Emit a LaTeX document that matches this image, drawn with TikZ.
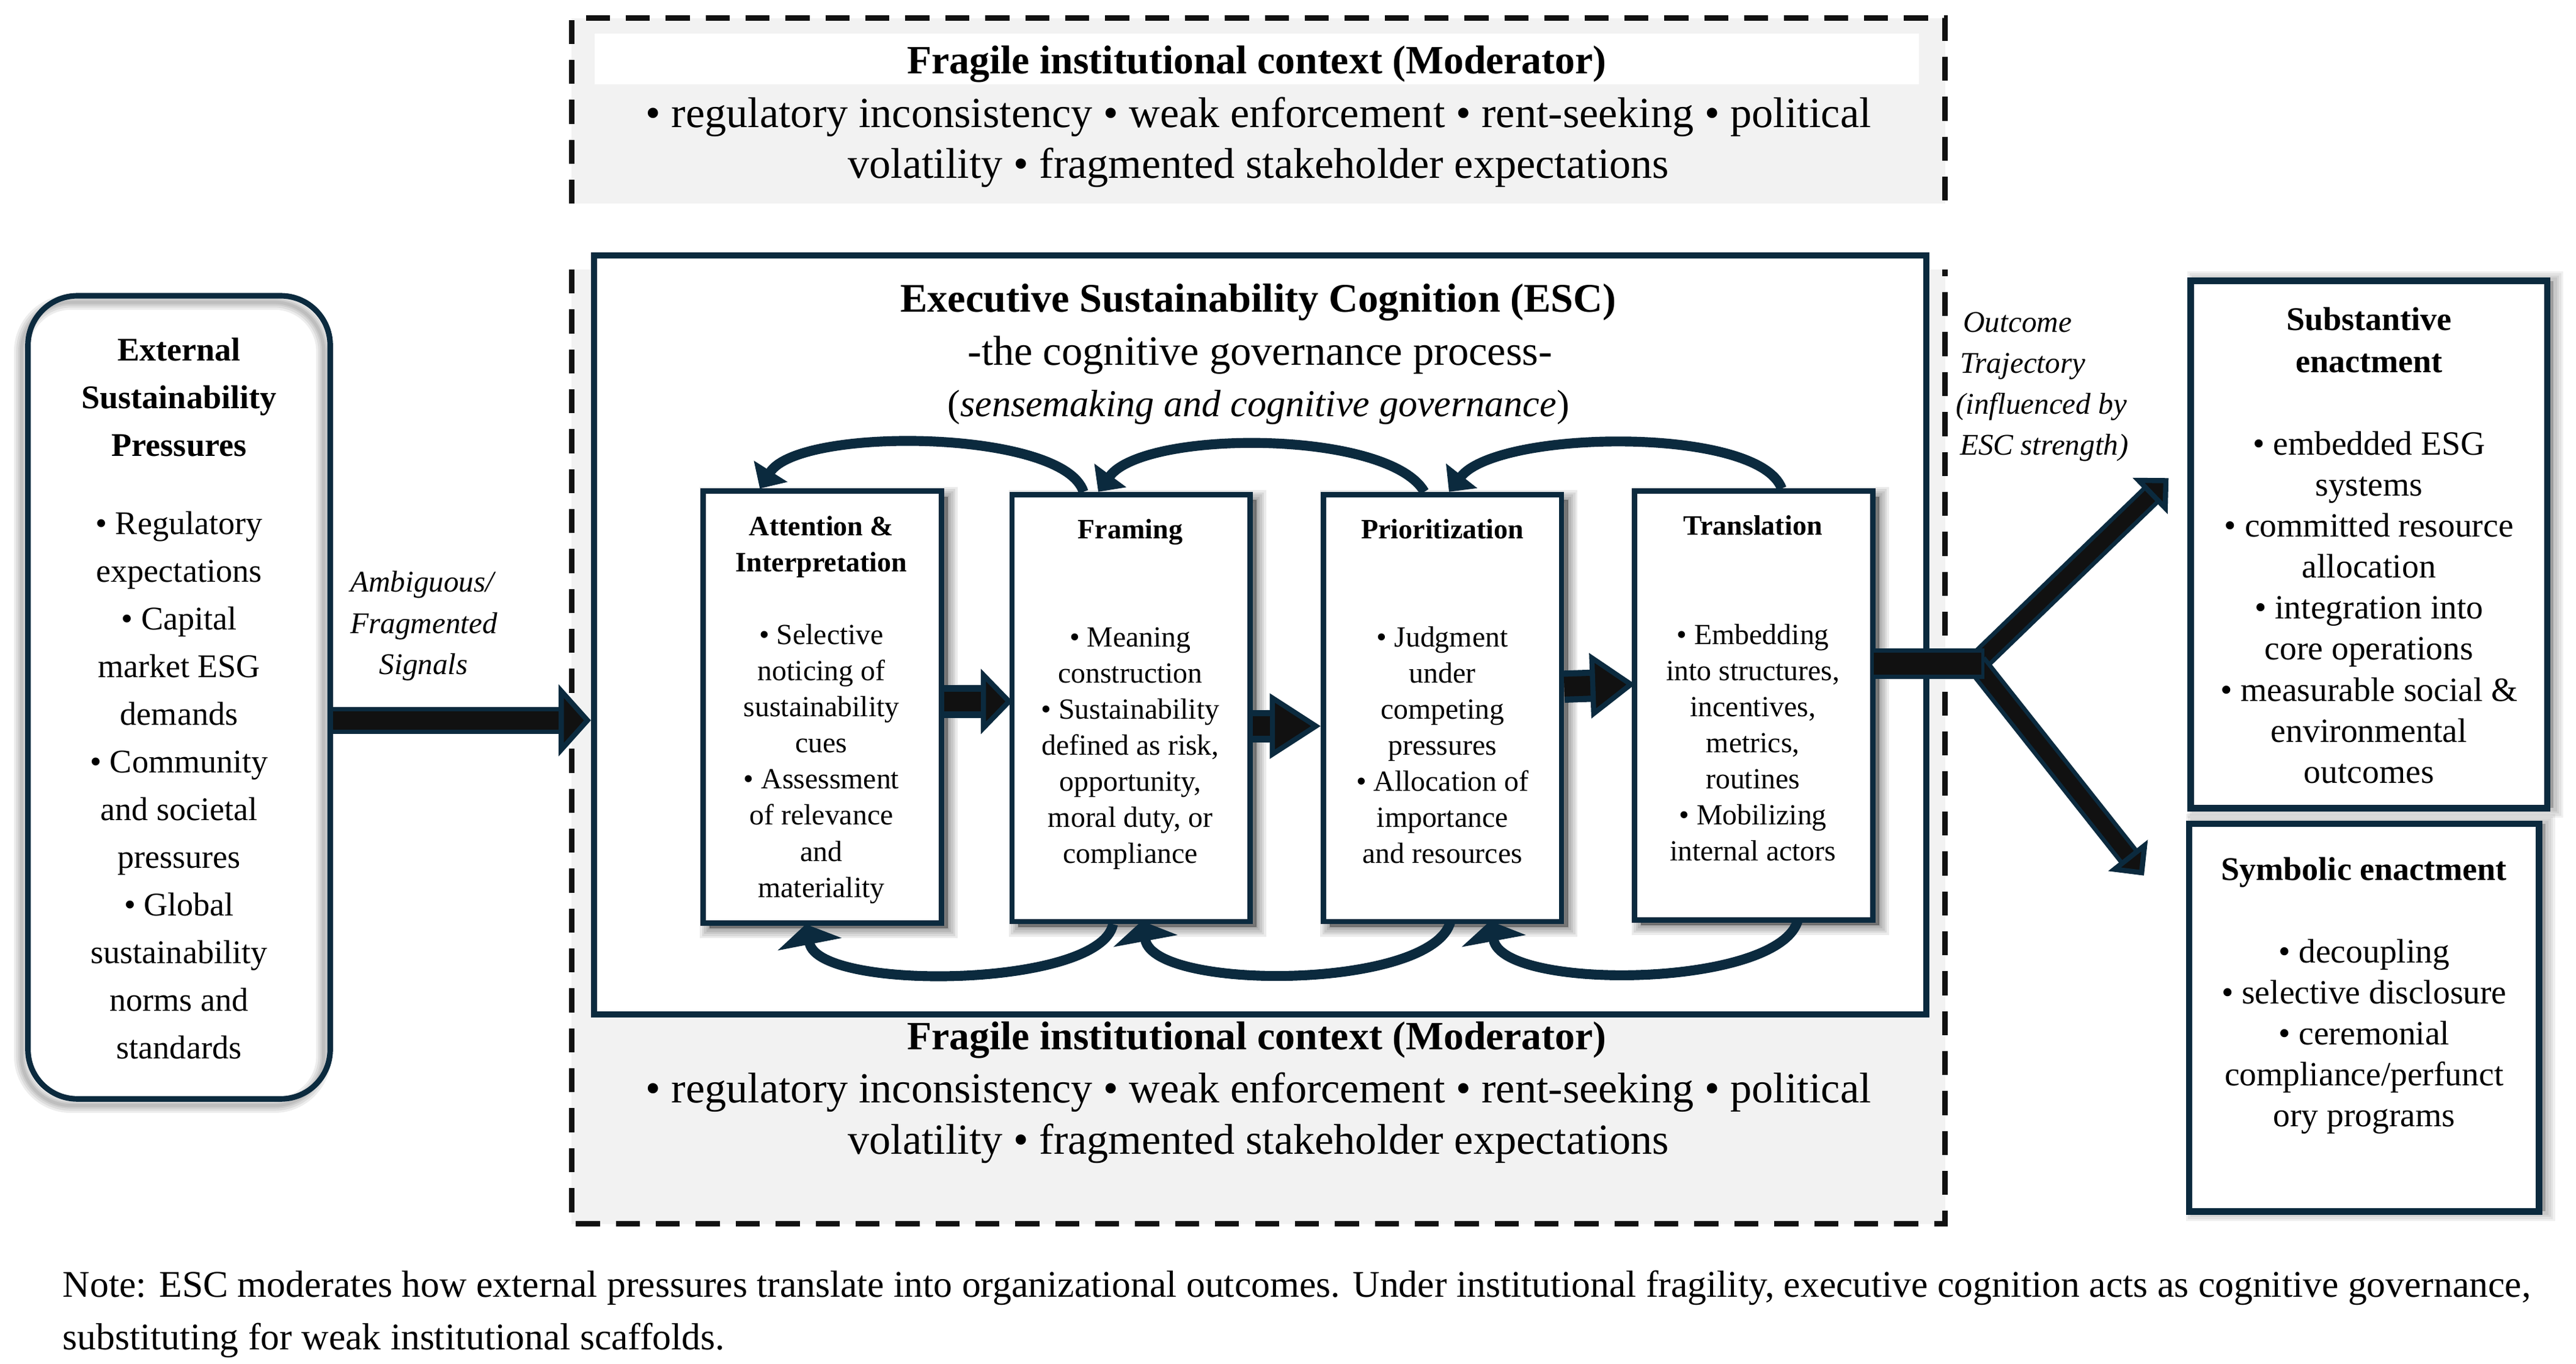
\documentclass[tikz,border=0pt]{standalone}
\usepackage{fontspec}
\setmainfont{Liberation Serif}
\usetikzlibrary{arrows.meta,calc,shadows}
\definecolor{navy}{HTML}{0B2A3E}
\definecolor{ink}{HTML}{111111}
\definecolor{pale}{HTML}{F2F2F2}
\def\uu{0.7648pt}
\tikzset{
  x=0.02688cm,y=-0.02688cm,
  dashline/.style={draw=ink,line width=2.6pt,dash pattern=on 11.2pt off 7.4pt},
  softrect/.style={
    general shadow={shadow xshift=3pt,shadow yshift=-2.5pt,fill=black,draw=black,line width=9pt,opacity=.08},
    general shadow={shadow xshift=3pt,shadow yshift=-2.5pt,fill=black,draw=black,line width=7pt,opacity=.08},
    general shadow={shadow xshift=3pt,shadow yshift=-2.5pt,fill=black,draw=black,line width=5pt,opacity=.08},
    general shadow={shadow xshift=3pt,shadow yshift=-2.5pt,fill=black,draw=black,line width=3pt,opacity=.08},
    general shadow={shadow xshift=3pt,shadow yshift=-2.5pt,fill=black,draw=black,line width=1pt,opacity=.08}},
  stepbox/.style={draw=navy,fill=white,line width=2.5pt,inner sep=0pt,softrect,minimum width=145*\uu},
  outbox/.style={draw=navy,fill=white,line width=3pt,inner sep=0pt,minimum width=217*\uu,
    general shadow={shadow xshift=3pt,fill=black,draw=black,line width=9pt,opacity=.06},
    general shadow={shadow xshift=3pt,fill=black,draw=black,line width=7pt,opacity=.06},
    general shadow={shadow xshift=3pt,fill=black,draw=black,line width=5pt,opacity=.06},
    general shadow={shadow xshift=3pt,fill=black,draw=black,line width=3pt,opacity=.06}},
  txt/.style={inner sep=0pt,align=center,text=black},
  fbig/.style={font=\fontsize{20}{23.7}\selectfont},
  fbigb/.style={font=\fontsize{18.7}{23.7}\selectfont\bfseries},
  fstep/.style={font=\fontsize{13.6}{16.8}\selectfont},
  fstepb/.style={font=\fontsize{13.1}{16.8}\selectfont\bfseries},
  fleft/.style={font=\fontsize{15.4}{22.2}\selectfont},
  fleftb/.style={font=\fontsize{15.4}{22.2}\selectfont\bfseries},
  fright/.style={font=\fontsize{15.8}{19.1}\selectfont},
  frightb/.style={font=\fontsize{15.4}{19.4}\selectfont\bfseries},
  fital/.style={font=\fontsize{14}{19.1}\selectfont\itshape},
  barrow/.style n args={4}{draw=navy,line width=#3,
     -{Triangle[length=#1,width=#2,fill=ink,line width=2.4pt]},
     postaction={draw=ink,line width=#4,-,shorten >=#1}},
  curve/.style={draw=navy,line width=4.6pt,-{Triangle[length=9.5pt,width=18pt,fill=navy]}},
  curveb/.style={draw=navy,line width=4.6pt,-{Triangle[length=9.5pt,width=30pt,fill=navy]}},
}
\begin{document}
\begin{tikzpicture}
\useasboundingbox (0,0) rectangle (1568,830);
% moderator panels
\fill[pale] (348,11) rectangle (1184,124);
\fill[white] (362,20.5) rectangle (1168,51.5);
\draw[dashline] (348,124) -- (348,11) -- (1184,11) -- (1184,124);
\fill[pale] (348,164) rectangle (1184,745);
\draw[dashline] (348,164) -- (348,745) -- (1184,745) -- (1184,164);
\node[txt,fbigb] (modT) at (765,39) {Fragile institutional context (Moderator)};
\node[txt,fbig] (modTb) at (766,86.5) {• regulatory inconsistency • weak enforcement • rent-seeking • political\\volatility • fragmented stakeholder expectations};
% ESC
\node[draw=navy,fill=white,line width=2.9pt,inner sep=0pt,minimum width=811*\uu,minimum height=462*\uu] (esc) at (767,386.5) {};
\node[txt,fbigb] (escT) at (766,184) {\fontsize{18.9}{23.7}\selectfont Executive Sustainability Cognition (ESC)};
\node[txt,font=\fontsize{19.5}{23.7}\selectfont] (escS) at (767,216) {-the cognitive governance process-};
\node[txt,font=\fontsize{17.7}{23.7}\selectfont] (escI) at (766,248) {(\textit{sensemaking and cognitive governance})};
\node[txt,fbigb] (modB) at (765,633) {Fragile institutional context (Moderator)};
\node[txt,fbig] (modBb) at (766,680.5) {• regulatory inconsistency • weak enforcement • rent-seeking • political\\volatility • fragmented stakeholder expectations};
% steps
\node[stepbox,minimum height=263*\uu] (A) at (500.5,430.5) {};
\node[stepbox,minimum height=260*\uu] (B) at (688.5,431) {};
\node[stepbox,minimum height=260*\uu] (C) at (878,431) {};
\node[stepbox,minimum height=261*\uu] (D) at (1067.5,429.5) {};
\node[txt,fstepb] (At) at (500,333) {Attention \&\\Interpretation};
\node[txt,fstep] (Ab) at (500,465) {• Selective\\noticing of\\sustainability\\cues\\• Assessment\\of relevance\\and\\materiality};
\node[txt,fstepb] (Bt) at (688,324) {Framing};
\node[txt,fstep] (Bb) at (688,455.5) {• Meaning\\construction\\• Sustainability\\defined as risk,\\opportunity,\\moral duty, or\\compliance};
\node[txt,fstepb] (Ct) at (878,322) {Prioritization};
\node[txt,fstep] (Cb) at (878,453.5) {• Judgment\\under\\competing\\pressures\\• Allocation of\\importance\\and resources};
\node[txt,fstepb] (Dt) at (1067,320) {Translation};
\node[txt,fstep] (Db) at (1067,452) {• Embedding\\into structures,\\incentives,\\metrics,\\routines\\• Mobilizing\\internal actors};
% feedback arcs
\draw[curve] ($(B.north)+(-29,0)$) .. controls +(-12,-38) and +(24,-38) .. ($(A.north)+(-38,0)$);
\draw[curve] ($(C.north)+(-11,0)$) .. controls +(-22,-38) and +(28,-38) .. ($(B.north)+(-20,0)$);
\draw[curve] ($(D.north)+(17,0)$) .. controls +(-14,-38) and +(30,-38) .. ($(C.north)+(4,0)$);
\draw[curveb] ($(B.south)+(-11,0)$) .. controls +(-8,39) and +(8,41) .. ($(A.south)+(-10,-1)$);
\draw[curveb] ($(C.south)+(5,-2)$) .. controls +(-10,42) and +(8,43) .. ($(B.south)+(6.5,-2)$);
\draw[curveb] ($(D.south)+(27,-2)$) .. controls +(-10,42) and +(8,43) .. ($(C.south)+(29,-2)$);
% block arrows between steps
\draw[barrow={14.8pt}{30pt}{15.3pt}{9.2pt}] ($(A.east)+(0,-3.5)$) -- ($(B.west)+(2,-4)$);
\draw[barrow={23.7pt}{30pt}{15pt}{9.2pt}] ($(B.east)+(0,11)$) -- ($(C.west)+(0,11)$);
\draw[barrow={21pt}{30pt}{15pt}{9.2pt}] ($(C.east)+(0,-13)$) -- ($(D.west)+(2,-13)$);
% left box
\node[draw=navy,line width=2.6pt,rounded corners=23pt,inner sep=0pt,minimum width=184*\uu,minimum height=489*\uu,
  general shadow={shadow xshift=-3pt,shadow yshift=-3pt,draw=black,line width=7pt,opacity=.07},
  general shadow={shadow xshift=-3pt,shadow yshift=-3pt,draw=black,line width=5pt,opacity=.07},
  general shadow={shadow xshift=-3pt,shadow yshift=-3pt,draw=black,line width=3pt,opacity=.07},
  general shadow={shadow xshift=-3pt,shadow yshift=-3pt,draw=black,line width=1.5pt,opacity=.07}] (L) at (109,424.5) {};
\node[txt,fleftb] (Lt) at (109,242) {External\\Sustainability\\Pressures};
\node[txt,fleft] (Lb) at (109,478) {• Regulatory\\expectations\\• Capital\\market ESG\\demands\\• Community\\and societal\\pressures\\• Global\\sustainability\\norms and\\standards};
\node[inner sep=0pt,align=left,fital] (sig) at (258,381) {Ambiguous/\\Fragmented\\\hspace*{13.5pt}Signals};
\draw[barrow={15pt}{33pt}{12.5pt}{8.5pt}] ($(L.east)+(0,14)$) -- ($(esc.west)+(0,52)$);
% outcome
\coordinate (jn) at (1203,404);
\coordinate (up) at (1320,291);
\coordinate (dn) at (1305,533);
\node[outbox,minimum height=321*\uu] (S1) at (1442,331.5) {};
\node[outbox,minimum width=213*\uu,minimum height=236*\uu] (S2) at (1439,619.5) {};
\draw[barrow={12pt}{23pt}{10.8pt}{6.8pt}] (jn) -- (up);
\draw[barrow={12pt}{23pt}{10.8pt}{6.8pt}] (jn) -- (dn);
\draw[draw=navy,line width=14.5pt] ($(D.east)+(-3,-25.5)$) -- (1208,404);
\draw[draw=ink,line width=10pt] ($(D.east)+(-1,-25.5)$) -- (1206,404);
\node[inner sep=0pt,align=left,fital] (out) at (1243,235.5) {\hspace*{3.5pt}Outcome\\\hspace*{2pt}Trajectory\\(influenced by\\\hspace*{2pt}ESC strength)};
\node[txt,frightb] (S1t) at (1442,207) {Substantive\\enactment};
\node[txt,fright] (S1b) at (1442,369.7) {• embedded ESG\\systems\\• committed resource\\allocation\\• integration into\\core operations\\• measurable social \&\\environmental\\outcomes};
\node[txt,frightb] (S2t) at (1439,531) {Symbolic enactment};
\node[txt,fright] (S2b) at (1439,631) {• decoupling\\• selective disclosure\\• ceremonial\\compliance/perfunct\\ory programs};
% note
\node[inner sep=0pt,anchor=west,align=left,font=\fontsize{17.55}{24.4}\selectfont] (note) at (38,800) {Note: ESC moderates how external pressures translate into organizational outcomes. Under institutional fragility, executive cognition acts as cognitive governance,\\substituting for weak institutional scaffolds.};
\end{tikzpicture}
\end{document}
